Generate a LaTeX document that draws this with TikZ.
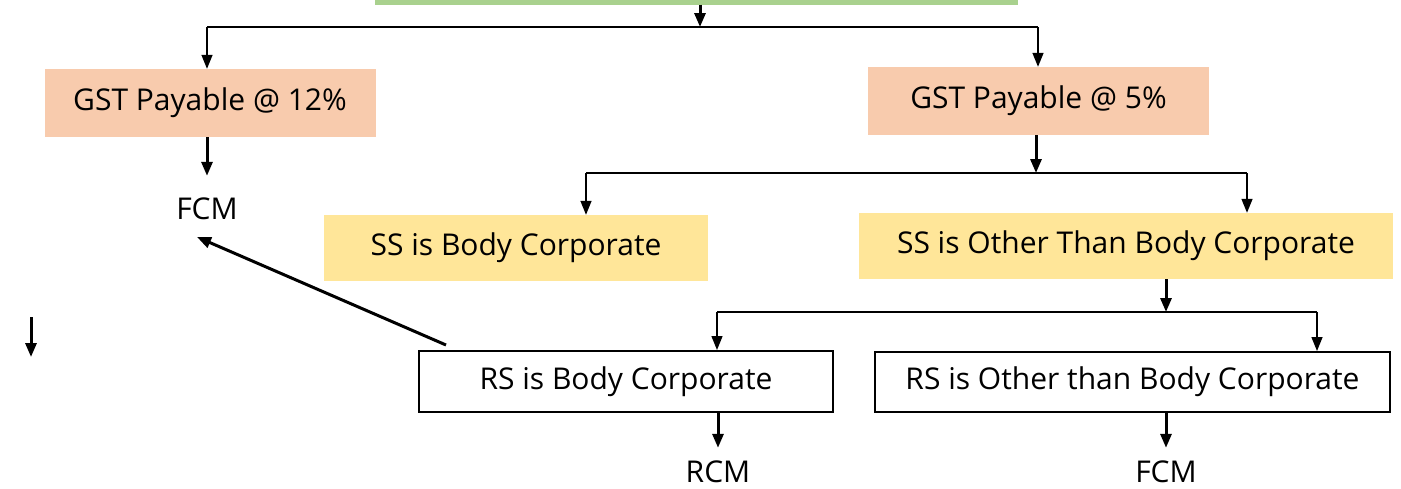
\documentclass[tikz,border=0pt]{standalone}
\usepackage{fontspec}
\setmainfont{Open Sans}
\usetikzlibrary{arrows.meta}
\definecolor{gfill}{HTML}{A9D18E}
\definecolor{pfill}{HTML}{F8CBAD}
\definecolor{yfill}{HTML}{FFE699}
\tikzset{
  box/.style={rectangle, inner sep=0pt, font=\fontsize{30}{36}\selectfont},
  gbox/.style={box, fill=gfill},
  pbox/.style={box, fill=pfill},
  ybox/.style={box, fill=yfill},
  wbox/.style={box, draw=black, line width=2pt, fill=white},
  lbl/.style={inner sep=0pt, font=\fontsize{30}{36}\selectfont},
  thinline/.style={line width=1.4pt},
  thinarr/.style={line width=1.4pt, -{Triangle[length=14pt,width=11pt]}},
  thickarr/.style={line width=3pt, -{Triangle[length=14pt,width=11pt]}},
}
\begin{document}
\begin{tikzpicture}[x=1pt,y=-1pt]
\useasboundingbox (0,0) rectangle (1401,488);
\fill[white] (0,0) rectangle (1401,488);

% boxes
\node[gbox, minimum width=643pt, minimum height=45pt] (top) at (696.5,-18) {};
\node[pbox, minimum width=331pt, minimum height=68pt] (gst12) at (210,103) {GST Payable @ 12\%};
\node[pbox, minimum width=341pt, minimum height=68pt] (gst5) at (1038.5,101) {GST Payable @ 5\%};
\node[ybox, minimum width=384pt, minimum height=66pt] (ssbc) at (516,248) {SS is Body Corporate};
\node[ybox, minimum width=534pt, minimum height=66pt] (ssother) at (1126,246) {SS is Other Than Body Corporate};
\node[wbox, minimum width=414pt, minimum height=61pt] (rsbc) at (626,381.5) {RS is Body Corporate};
\node[wbox, minimum width=515pt, minimum height=60pt] (rsother) at (1132.5,382) {RS is Other than Body Corporate};

% end labels
\node[lbl] (fcm1) at (207,209) {FCM};
\node[lbl] (rcm) at (718,472) {RCM};
\node[lbl] (fcm2) at (1166,472) {FCM};

% junction coordinates
\coordinate (j1) at (700,27);
\coordinate (j1l) at (207,27);
\coordinate (j1r) at (1038,27);
\coordinate (j2) at (1036,173);
\coordinate (j2l) at (586,173);
\coordinate (j2r) at (1247,173);
\coordinate (j3) at (1166,312);
\coordinate (j3l) at (717,312);
\coordinate (j3r) at (1317,312);
\coordinate (dstart) at (446,345);
\coordinate (dend) at (197,237);
\coordinate (sa) at (31,317);
\coordinate (sb) at (31,357);

% level 1
\draw[thickarr] (top.south -| j1) -- (j1);
\draw[thinline] (j1l) -- (j1r);
\draw[thinarr] (j1l) -- (j1l |- gst12.north);
\draw[thinarr] (j1r) -- (j1r |- gst5.north);

% GST 12 -> FCM
\draw[thickarr] (gst12.south -| fcm1) -- ([yshift=22pt]fcm1.north);

% level 2
\draw[thickarr] (gst5.south -| j2) -- (j2);
\draw[thinline] (j2l) -- (j2r);
\draw[thinarr] (j2l) -- (j2l |- ssbc.north);
\draw[thinarr] (j2r) -- (j2r |- ssother.north);

% level 3
\draw[thickarr] (ssother.south -| j3) -- (j3);
\draw[thinline] (j3l) -- (j3r);
\draw[thinarr] (j3l) -- (j3l |- rsbc.north);
\draw[thinarr] (j3r) -- (j3r |- rsother.north);

% outcomes
\draw[thickarr] (rsbc.south -| rcm) -- ([yshift=13pt]rcm.north);
\draw[thickarr] (rsother.south -| fcm2) -- ([yshift=13pt]fcm2.north);

% diagonal
\draw[thickarr] (dstart) -- (dend);

% stray arrow
\draw[thickarr] (sa) -- (sb);
\end{tikzpicture}
\end{document}
